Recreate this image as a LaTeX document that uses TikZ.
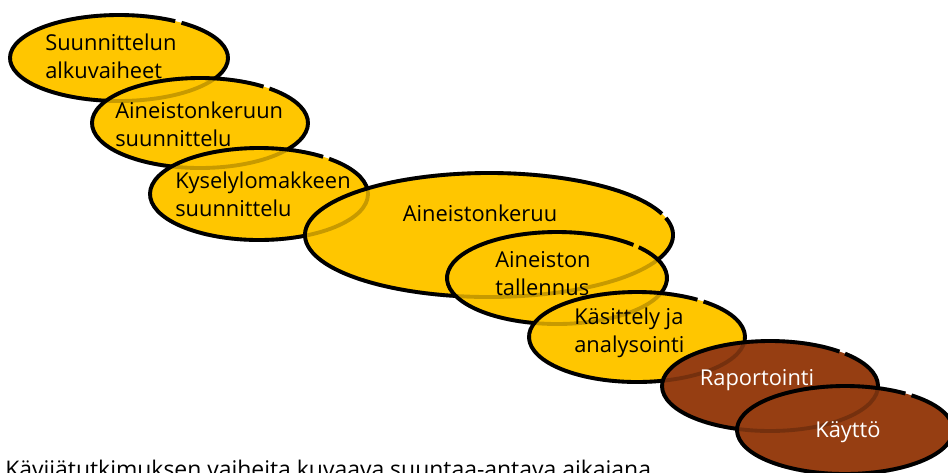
\documentclass[tikz,border=0pt]{standalone}
\usepackage{fontspec}
\setmainfont{Open Sans}
\usepackage{tikz}
\definecolor{phaseyellow}{RGB}{255,198,0}
\definecolor{phasebrown}{RGB}{150,62,18}
% centre x / centre y / x radius / y radius / angle of the break / fill
\def\phaselist{119/58/109/43/-55/phaseyellow, 200/123/108/45/-50/phaseyellow,
	259/194/109/46/-50/phaseyellow, 489/235/184/62/-16/phaseyellow,
	557/278/110/46/-42/phaseyellow, 637/337/108/45/-52/phaseyellow,
	770/386/108/45/-46/phasebrown, 845/430/108/44/-52/phasebrown}

\begin{document}
\begin{tikzpicture}[x=0.75pt,y=0.75pt,yscale=-1,
	phaseline/.style={draw=black, line width=2.9pt},
	hiddenline/.style={draw=black, draw opacity=0.22, line width=2.9pt},
	phasetext/.style={align=left, inner sep=0pt, font=\fontsize{16.4}{21}\selectfont},
	latetext/.style={phasetext, text=white}]
	\useasboundingbox (0,0) rectangle (948,472);
	
	% the phases, from first to last
	\foreach \cx/\cy/\rx/\ry/\gap/\col in \phaselist {
		\fill [\col] (\cx,\cy) ellipse [x radius=\rx, y radius=\ry];
		\draw [phaseline] (\cx,\cy) ++({\rx*cos(\gap)},{\ry*sin(\gap)}) arc [start angle=\gap, end angle=\gap+356, x radius=\rx, y radius=\ry];
	}
	% outlines seen through the phase above them
	\foreach \cx/\cy/\rx/\ry/\gap/\col in \phaselist {
		\draw [hiddenline] (\cx,\cy) ++({\rx*cos(\gap)},{\ry*sin(\gap)}) arc [start angle=\gap, end angle=\gap+356, x radius=\rx, y radius=\ry];
	}
	
	% texts
	\node [phasetext, anchor=west] (alku) at (45,56) {Suunnittelun\\alkuvaiheet};
	\node [phasetext, anchor=west] (keruusuun) at (115,124) {Aineistonkeruun\\suunnittelu};
	\node [phasetext, anchor=west] (lomake) at (175,194) {Kyselylomakkeen\\suunnittelu};
	\node [phasetext] (keruu) at (480,213) {Aineistonkeruu};
	\node [phasetext, anchor=west] (tallennus) at (495,274) {Aineiston\\tallennus};
	\node [phasetext, anchor=west] (analyysi) at (574,333) {Käsittely ja\\analysointi};
	\node [latetext] (raportti) at (757,380) {Raportointi};
	\node [latetext] (kaytto) at (848,432) {Käyttö};
	
	\node [anchor=base west, inner sep=0pt, font=\fontsize{17.2}{20}\selectfont] (otsikko) at (5,477) {Kävijätutkimuksen vaiheita kuvaava suuntaa-antava aikajana};
\end{tikzpicture}
\end{document}
